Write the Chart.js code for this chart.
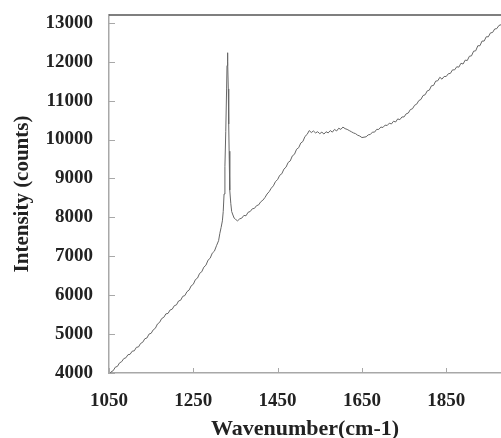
<!DOCTYPE html>
<html>
<head>
<meta charset="utf-8">
<script src="https://cdn.jsdelivr.net/npm/chart.js@4.4.1/dist/chart.umd.min.js"></script>
<style>
  html, body { margin: 0; padding: 0; background: #fff; }
  canvas { display: block; }
</style>
</head>
<body>
<canvas id="ramanChart" width="501" height="438"></canvas>
<script>
const wavenumbers = [
  1050, 1055, 1060, 1065, 1070, 1075, 1080, 1085, 1090, 1095,
  1100, 1105, 1110, 1115, 1120, 1125, 1130, 1135, 1140, 1145,
  1150, 1155, 1160, 1165, 1170, 1175, 1180, 1185, 1190, 1195,
  1200, 1205, 1210, 1215, 1220, 1225, 1230, 1235, 1240, 1245,
  1250, 1255, 1260, 1265, 1270, 1275, 1280, 1285, 1290, 1295,
  1300, 1305, 1310, 1313, 1316, 1319, 1321, 1323, 1325, 1327,
  1329, 1330, 1331, 1332, 1333, 1334, 1335, 1336, 1337, 1339,
  1341, 1344, 1347, 1350, 1355, 1360, 1365, 1370, 1375, 1380,
  1385, 1390, 1395, 1400, 1405, 1410, 1415, 1420, 1425, 1430,
  1435, 1440, 1445, 1450, 1455, 1460, 1465, 1470, 1475, 1480,
  1485, 1490, 1495, 1500, 1505, 1510, 1515, 1520, 1525, 1530,
  1535, 1540, 1545, 1550, 1555, 1560, 1565, 1570, 1575, 1580,
  1585, 1590, 1595, 1600, 1605, 1610, 1615, 1620, 1625, 1630,
  1635, 1640, 1645, 1650, 1655, 1660, 1665, 1670, 1675, 1680,
  1685, 1690, 1695, 1700, 1705, 1710, 1715, 1720, 1725, 1730,
  1735, 1740, 1745, 1750, 1755, 1760, 1765, 1770, 1775, 1780,
  1785, 1790, 1795, 1800, 1805, 1810, 1815, 1820, 1825, 1830,
  1835, 1840, 1845, 1850, 1855, 1860, 1865, 1870, 1875, 1880,
  1885, 1890, 1895, 1900, 1905, 1910, 1915, 1920, 1925, 1930,
  1935, 1940, 1945, 1950, 1955, 1960, 1965, 1970, 1975, 1980
];
const intensity = [
  3950, 4030, 4060, 4150, 4170, 4260, 4290, 4370, 4390, 4470,
  4480, 4560, 4570, 4660, 4670, 4760, 4790, 4880, 4900, 5000,
  5020, 5110, 5150, 5260, 5300, 5400, 5430, 5520, 5530, 5620,
  5640, 5730, 5750, 5850, 5870, 5970, 5990, 6090, 6130, 6240,
  6280, 6400, 6440, 6560, 6600, 6720, 6770, 6900, 6950, 7080,
  7130, 7270, 7400, 7590, 7740, 7910, 8150, 8600, 9300, 10200,
  11300, 11900, 12230, 12000, 11300, 10400, 9700, 9100, 8700, 8350,
  8150, 8060, 7980, 7950, 7910, 7960, 7980, 8050, 8040, 8130,
  8150, 8220, 8230, 8300, 8320, 8400, 8440, 8510, 8600, 8660,
  8750, 8810, 8920, 8970, 9080, 9120, 9240, 9290, 9410, 9450,
  9580, 9620, 9750, 9790, 9910, 9950, 10080, 10130, 10230, 10180,
  10220, 10170, 10200, 10150, 10190, 10140, 10200, 10170, 10230, 10190,
  10260, 10220, 10290, 10260, 10320, 10280, 10260, 10230, 10200, 10170,
  10150, 10110, 10090, 10050, 10060, 10070, 10120, 10130, 10190, 10190,
  10260, 10260, 10320, 10310, 10370, 10360, 10420, 10400, 10470, 10450,
  10530, 10510, 10580, 10580, 10660, 10680, 10770, 10790, 10880, 10910,
  11000, 11030, 11130, 11150, 11250, 11270, 11380, 11390, 11500, 11510,
  11600, 11550, 11620, 11620, 11690, 11700, 11790, 11790, 11870, 11860,
  11960, 11940, 12040, 12030, 12140, 12150, 12270, 12280, 12410, 12410,
  12530, 12530, 12640, 12640, 12740, 12750, 12840, 12850, 12930, 12950
];
const xTicks = [1050, 1250, 1450, 1650, 1850];
const yTicks = [4000, 5000, 6000, 7000, 8000, 9000, 10000, 11000, 12000, 13000];

const serif = '"Liberation Serif", "Times New Roman", serif';
const textColor = '#222';
const axisColor = '#a8a8a8';

// short inward tick marks + dark top frame line
const frame = {
    id: 'frame',
    afterDraw(chart) {
        const c = chart.ctx;
        const a = chart.chartArea;
        const x = chart.scales.x;
        const y = chart.scales.y;
        c.save();
        c.strokeStyle = axisColor;
        c.lineWidth = 1;
        xTicks.forEach(v => {
            const px = Math.round(x.getPixelForValue(v)) + 0.5;
            c.beginPath();
            c.moveTo(px, a.bottom);
            c.lineTo(px, a.bottom - 5);
            c.stroke();
        });
        yTicks.forEach(v => {
            const py = Math.round(y.getPixelForValue(v)) + 0.5;
            c.beginPath();
            c.moveTo(a.left, py);
            c.lineTo(a.left + 6, py);
            c.stroke();
        });
        c.strokeStyle = '#555';
        c.lineWidth = 1.5;
        c.beginPath();
        c.moveTo(a.left, a.top);
        c.lineTo(a.right, a.top);
        c.stroke();
        c.restore();
    }
};

const ctx = document.getElementById('ramanChart').getContext('2d');
const ramanChart = new Chart(ctx, {
    type: 'line',
    data: {
        datasets: [{
            data: wavenumbers.map((w, i) => ({ x: w, y: intensity[i] })),
            borderColor: '#666',
            borderWidth: 1,
            pointRadius: 0,
            tension: 0,
            fill: false
        }]
    },
    options: {
        responsive: false,
        animation: false,
        layout: { padding: { top: 15, right: 0, left: 0, bottom: 0 } },
        plugins: {
            legend: { display: false },
            tooltip: { enabled: false }
        },
        scales: {
            x: {
                type: 'linear',
                min: 1050,
                max: 1980,
                afterBuildTicks: s => { s.ticks = xTicks.map(v => ({ value: v })); },
                afterFit: s => { s.height = 65; s.paddingLeft = 0; s.paddingRight = 0; },
                grid: { display: true, drawOnChartArea: false, drawTicks: false },
                border: { display: true, color: axisColor, width: 1.5 },
                ticks: {
                    color: textColor,
                    padding: 17,
                    maxRotation: 0,
                    callback: v => String(v),
                    font: { family: serif, size: 19, weight: 'bold', lineHeight: 1.2 }
                },
                title: {
                    display: true,
                    text: 'Wavenumber(cm-1)',
                    color: textColor,
                    padding: 0,
                    font: { family: serif, size: 22, weight: 'bold', lineHeight: 0.8 }
                }
            },
            y: {
                type: 'linear',
                min: 4000,
                max: 13200,
                afterBuildTicks: s => { s.ticks = yTicks.map(v => ({ value: v })); },
                afterFit: s => { s.width = 109; s.paddingTop = 0; s.paddingBottom = 0; },
                grid: { display: true, drawOnChartArea: false, drawTicks: false },
                border: { display: true, color: axisColor, width: 1.5 },
                ticks: {
                    color: textColor,
                    padding: 16,
                    callback: v => String(v),
                    font: { family: serif, size: 19, weight: 'bold' }
                },
                title: {
                    display: true,
                    text: 'Intensity (counts)',
                    color: textColor,
                    padding: { top: 10, bottom: 0 },
                    font: { family: serif, size: 21, weight: 'bold', lineHeight: 1.2 }
                }
            }
        }
    },
    plugins: [frame]
});
</script>
</body>
</html>
